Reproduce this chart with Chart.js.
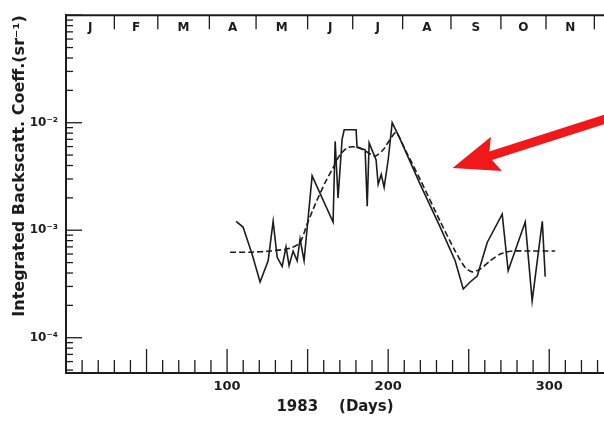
<!DOCTYPE html>
<html>
<head>
<meta charset="utf-8">
<script src="https://cdn.jsdelivr.net/npm/chart.js@4.4.0/dist/chart.umd.min.js"></script>
<style>
  body { margin: 0; background: #fff; }
  canvas { display: block; }
</style>
</head>
<body>
<canvas id="mycanvas" width="604" height="421"></canvas>
<script>
// measured integrated backscatter (solid jagged line)
var obsDays = [105.6, 109.9, 115.5, 120.5, 125.5, 128.6, 131.1, 134.2, 136.6, 138.5, 141.0, 143.5, 145.3, 147.8,
  152.8, 165.8, 167.1, 168.9, 171.4, 172.7, 180.1, 180.7, 185.7, 187.0, 188.2, 192.5, 193.8, 195.7, 197.5, 200.0,
  202.5, 207.5, 219.9, 232.3, 241.6, 246.6, 250.9, 255.3, 261.5, 270.8, 274.5, 285.1, 289.4, 295.7, 297.5];
var obsValues = [1.21e-3, 1.07e-3, 6.0e-4, 3.3e-4, 5.2e-4, 1.21e-3, 5.6e-4, 4.6e-4, 7.0e-4, 4.7e-4, 6.4e-4, 5.2e-4, 8.3e-4, 5.2e-4,
  3.2e-3, 1.19e-3, 6.7e-3, 2.0e-3, 7.0e-3, 8.6e-3, 8.6e-3, 5.9e-3, 5.6e-3, 1.67e-3, 6.5e-3, 4.5e-3, 2.67e-3, 3.3e-3, 2.5e-3, 4.5e-3,
  1.0e-2, 7.0e-3, 2.67e-3, 1.07e-3, 5.2e-4, 2.84e-4, 3.3e-4, 3.75e-4, 7.7e-4, 1.41e-3, 4.2e-4, 1.19e-3, 2.2e-4, 1.21e-3, 3.7e-4];

// smoothed curve (dashed)
var fitDays = [101.9, 114.3, 126.7, 139.1, 145.3, 149.7, 154.7, 160.9, 165.8, 170.2, 175.2, 181.4, 186.3, 191.9, 196.9,
  201.2, 205.0, 210.6, 219.9, 232.3, 241.6, 247.8, 252.2, 257.1, 263.4, 269.6, 277.0, 288.2, 303.7];
var fitValues = [6.25e-4, 6.25e-4, 6.4e-4, 6.8e-4, 7.7e-4, 1.14e-3, 1.74e-3, 2.78e-3, 3.8e-3, 5.06e-3, 5.9e-3, 5.9e-3, 5.4e-3, 4.9e-3, 5.6e-3,
  7.0e-3, 8.1e-3, 5.6e-3, 2.96e-3, 1.21e-3, 6.4e-4, 4.5e-4, 4.1e-4, 4.35e-4, 5.2e-4, 6.0e-4, 6.4e-4, 6.4e-4, 6.4e-4];

var xTickValues = [100, 200, 300];
var yTickValues = [1e-4, 1e-3, 1e-2];
var yTickLabels = ['10⁻⁴', '10⁻³', '10⁻²'];

// month strip along the top (edges as drawn on the original)
var monthLabels = ['J', 'F', 'M', 'A', 'M', 'J', 'J', 'A', 'S', 'O', 'N'];
var monthEdges = [0, 30, 57, 89, 118, 150, 178, 209, 239, 270, 298, 328];

// red arrow: tail, tip
var arrowDays = [346, 240];
var arrowValues = [1.22e-2, 3.8e-3];

var ink = '#1c1c1c';
var fontFamily = '"DejaVu Sans", sans-serif';

function pairs(xs, ys) {
  var out = [];
  for (var i = 0; i < xs.length; i++) out.push({x: xs[i], y: ys[i]});
  return out;
}

var paperAxes = {
  id: 'paperAxes',
  afterDraw: function(chart) {
    var ctx = chart.ctx, xs = chart.scales.x, ys = chart.scales.y, a = chart.chartArea;
    var i, px, py, len;
    ctx.save();
    ctx.strokeStyle = ink;
    ctx.fillStyle = ink;

    ctx.lineWidth = 2;
    ctx.beginPath();
    ctx.moveTo(a.left, a.top);
    ctx.lineTo(a.right, a.top);
    ctx.stroke();

    // inward ticks on bottom axis
    ctx.lineWidth = 1.3;
    for (var d = 10; d <= xs.max; d += 10) {
      px = xs.getPixelForValue(d);
      len = d % 50 === 0 ? 24 : 13;
      ctx.beginPath();
      ctx.moveTo(px, a.bottom);
      ctx.lineTo(px, a.bottom - len);
      ctx.stroke();
    }

    // log ticks on left axis
    for (var e = -5; e <= -1; e++) {
      for (var m = 1; m <= 9; m++) {
        var v = m * Math.pow(10, e);
        if (v < ys.min || v > ys.max) continue;
        py = ys.getPixelForValue(v);
        len = m === 1 ? 16 : 7;
        ctx.beginPath();
        ctx.moveTo(a.left, py);
        ctx.lineTo(a.left + len, py);
        ctx.stroke();
      }
    }

    // month dividers + letters
    for (i = 1; i < monthEdges.length; i++) {
      px = xs.getPixelForValue(monthEdges[i]);
      ctx.beginPath();
      ctx.moveTo(px, a.top);
      ctx.lineTo(px, a.top + 14);
      ctx.stroke();
    }
    ctx.font = 'bold 12px ' + fontFamily;
    ctx.textAlign = 'center';
    ctx.textBaseline = 'middle';
    for (i = 0; i < monthLabels.length; i++) {
      px = xs.getPixelForValue((monthEdges[i] + monthEdges[i + 1]) / 2);
      ctx.fillText(monthLabels[i], px, a.top + 13);
    }
    ctx.restore();

    // red arrow
    var x0 = xs.getPixelForValue(arrowDays[0]), y0 = ys.getPixelForValue(arrowValues[0]);
    var x1 = xs.getPixelForValue(arrowDays[1]), y1 = ys.getPixelForValue(arrowValues[1]);
    var L = Math.hypot(x1 - x0, y1 - y0);
    ctx.save();
    ctx.translate(x1, y1);
    ctx.rotate(Math.atan2(y1 - y0, x1 - x0));
    ctx.fillStyle = '#f01818';
    ctx.beginPath();
    ctx.moveTo(0, 0);
    ctx.lineTo(-46, -18);
    ctx.lineTo(-40, -4.5);
    ctx.lineTo(-L, -4.5);
    ctx.lineTo(-L, 4.5);
    ctx.lineTo(-40, 4.5);
    ctx.lineTo(-46, 18);
    ctx.closePath();
    ctx.fill();
    ctx.restore();
  }
};

var ctx = document.getElementById('mycanvas');

var chart = new Chart(ctx, {
  type: 'line',
  data: {
    datasets: [
      {
        label: 'observed',
        data: pairs(obsDays, obsValues),
        borderColor: ink,
        borderWidth: 1.6,
        pointRadius: 0,
        tension: 0
      },
      {
        label: 'smoothed',
        data: pairs(fitDays, fitValues),
        borderColor: ink,
        borderWidth: 1.6,
        borderDash: [6, 3],
        pointRadius: 0,
        tension: 0.25
      }
    ]
  },
  options: {
    responsive: false,
    animation: false,
    devicePixelRatio: 1,
    layout: { padding: { top: 13, left: 0, right: 0, bottom: 0 } },
    plugins: { legend: { display: false }, tooltip: { enabled: false } },
    scales: {
      x: {
        type: 'linear',
        min: 0,
        max: 334,
        grid: { display: false, drawTicks: false },
        border: { display: true, color: ink, width: 2 },
        afterBuildTicks: function(s) { s.ticks = xTickValues.map(function(v) { return {value: v}; }); },
        afterFit: function(s) { s.height = 48; },
        ticks: {
          color: ink,
          padding: 6,
          maxRotation: 0,
          font: { family: fontFamily, size: 13, weight: 'bold' },
          callback: function(v) { return String(v); }
        },
        title: {
          display: true,
          text: '1983    (Days)',
          color: ink,
          font: { family: fontFamily, size: 15, weight: 'bold' },
          padding: { top: 0, bottom: 5 }
        }
      },
      y: {
        type: 'logarithmic',
        min: 4.7e-5,
        max: 0.1,
        grid: { display: false, drawTicks: false },
        border: { display: true, color: ink, width: 2 },
        afterBuildTicks: function(s) { s.ticks = yTickValues.map(function(v) { return {value: v}; }); },
        afterFit: function(s) { s.width = 66; },
        ticks: {
          color: ink,
          padding: 8,
          font: { family: fontFamily, size: 12, weight: 'bold' },
          callback: function(v) {
            var i = yTickValues.indexOf(v);
            return i < 0 ? '' : yTickLabels[i];
          }
        },
        title: {
          display: true,
          text: 'Integrated Backscatt. Coeff.(sr⁻¹)',
          align: 'end',
          color: ink,
          font: { family: fontFamily, size: 16, weight: 'bold' },
          padding: { top: 10, bottom: 0 }
        }
      }
    }
  },
  plugins: [paperAxes]
});
</script>
</body>
</html>
